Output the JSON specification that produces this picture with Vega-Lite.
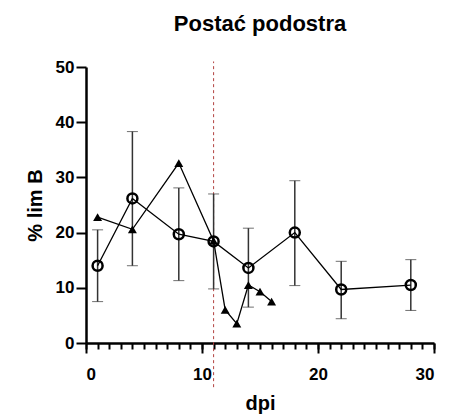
{
  "$schema": "https://vega.github.io/schema/vega-lite/v6.json",
  "autosize": {"type": "none"},
  "padding": {"left": 86, "top": 67, "right": 33, "bottom": 72},
  "width": 348,
  "height": 276,
  "background": "white",
  "title": {
    "text": "Postać podostra",
    "font": "Liberation Sans",
    "fontSize": 22,
    "fontWeight": "bold",
    "color": "black",
    "anchor": "middle",
    "frame": "group",
    "offset": 22
  },
  "config": {
    "view": {"stroke": null},
    "axis": {
      "domainColor": "black",
      "domainWidth": 2.5,
      "tickColor": "black",
      "tickWidth": 2,
      "grid": false,
      "labelFont": "Liberation Sans",
      "labelFontWeight": "bold",
      "labelFontSize": 17,
      "labelColor": "black",
      "titleFont": "Liberation Sans",
      "titleFontWeight": "bold",
      "titleFontSize": 20,
      "titleColor": "black"
    }
  },
  "datasets": {
    "circles": [
      {"dpi": 1, "v": 14.0, "lo": 7.5, "hi": 20.5},
      {"dpi": 4, "v": 26.2, "lo": 14.0, "hi": 38.3},
      {"dpi": 8, "v": 19.7, "lo": 11.3, "hi": 28.1},
      {"dpi": 11, "v": 18.4, "lo": 9.8, "hi": 27.0},
      {"dpi": 14, "v": 13.6, "lo": 6.5, "hi": 20.8},
      {"dpi": 18, "v": 20.0, "lo": 10.4, "hi": 29.4},
      {"dpi": 22, "v": 9.7, "lo": 4.4, "hi": 14.8},
      {"dpi": 28, "v": 10.5, "lo": 5.9, "hi": 15.1}
    ],
    "triangles": [
      {"dpi": 1, "v": 22.8},
      {"dpi": 4, "v": 20.6},
      {"dpi": 8, "v": 32.6},
      {"dpi": 11, "v": 18.5},
      {"dpi": 12, "v": 6.0},
      {"dpi": 13, "v": 3.5},
      {"dpi": 14, "v": 10.5},
      {"dpi": 15, "v": 9.3},
      {"dpi": 16, "v": 7.5}
    ],
    "marker": [{"dpi": 11, "top": 51, "bottom": -8}]
  },
  "resolve": {"scale": {"x": "independent"}, "axis": {"x": "independent"}},
  "layer": [
    {
      "data": {"name": "marker"},
      "mark": {"type": "rule", "color": "#b2413f", "strokeWidth": 1, "strokeDash": [3, 3]},
      "encoding": {
        "x": {
          "field": "dpi", "type": "quantitative",
          "scale": {"domain": [0, 30], "nice": false, "zero": false},
          "axis": {
            "orient": "bottom",
            "title": null,
            "labels": false,
            "domain": false,
            "values": [0,1,2,3,4,5,6,7,8,9,10,11,12,13,14,15,16,17,18,19,20,21,22,23,24,25,26,27,28,29,30],
            "tickColor": "black",
            "tickWidth": 2,
            "tickSize": 6
          }
        },
        "y": {"field": "bottom", "type": "quantitative", "title": "% lim B", "scale": {"domain": [0, 50], "nice": false}, "axis": {"values": [0,10,20,30,40,50], "tickSize": 10, "labelPadding": 2, "titlePadding": 10}},
        "y2": {"field": "top"}
      }
    },
    {
      "data": {"name": "circles"},
      "mark": {"type": "errorbar", "ticks": {"size": 11, "color": "#333", "strokeWidth": 1.5}, "rule": {"color": "#333", "strokeWidth": 1.5}},
      "encoding": {
        "x": {
          "field": "dpi", "type": "quantitative",
          "scale": {"domain": [0, 30], "nice": false, "zero": false},
          "axis": {
            "orient": "bottom",
            "title": "dpi",
            "values": [0, 10, 20, 30],
            "tickSize": 10,
            "labelPadding": 13,
            "titlePadding": 11
          }
        },
        "y": {"field": "lo", "type": "quantitative", "title": "% lim B"},
        "y2": {"field": "hi"}
      }
    },
    {
      "data": {"name": "triangles"},
      "mark": {"type": "line", "color": "black", "strokeWidth": 1.3},
      "encoding": {
        "x": {"field": "dpi", "type": "quantitative", "scale": {"domain": [0, 30], "nice": false, "zero": false}, "axis": null},
        "y": {"field": "v", "type": "quantitative", "title": "% lim B"}
      }
    },
    {
      "data": {"name": "triangles"},
      "mark": {"type": "point", "shape": "triangle-up", "filled": true, "color": "black", "size": 80, "opacity": 1},
      "encoding": {
        "x": {"field": "dpi", "type": "quantitative", "scale": {"domain": [0, 30], "nice": false, "zero": false}, "axis": null},
        "y": {"field": "v", "type": "quantitative", "title": "% lim B"}
      }
    },
    {
      "data": {"name": "circles"},
      "mark": {"type": "line", "color": "black", "strokeWidth": 1.3},
      "encoding": {
        "x": {"field": "dpi", "type": "quantitative", "scale": {"domain": [0, 30], "nice": false, "zero": false}, "axis": null},
        "y": {"field": "v", "type": "quantitative", "title": "% lim B"}
      }
    },
    {
      "data": {"name": "circles"},
      "mark": {"type": "point", "shape": "circle", "filled": false, "fill": "white", "fillOpacity": 0, "stroke": "black", "strokeWidth": 2.5, "size": 100, "opacity": 1},
      "encoding": {
        "x": {"field": "dpi", "type": "quantitative", "scale": {"domain": [0, 30], "nice": false, "zero": false}, "axis": null},
        "y": {"field": "v", "type": "quantitative", "title": "% lim B"}
      }
    }
  ]
}
